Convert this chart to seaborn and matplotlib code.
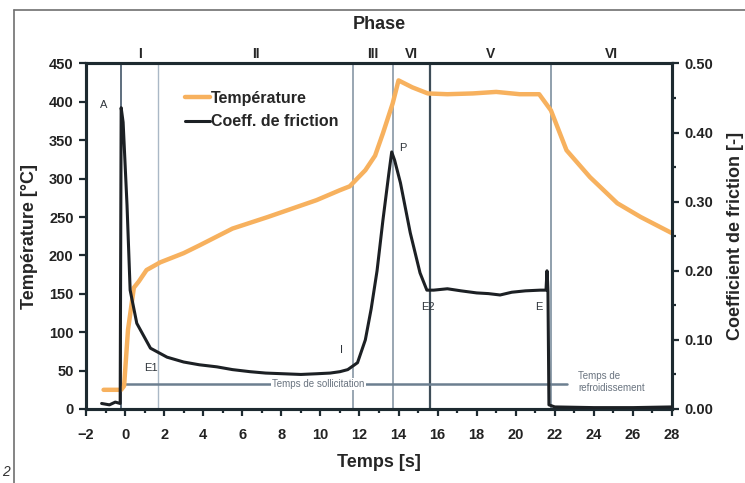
import numpy as np
import pandas as pd
import seaborn as sns
import matplotlib.pyplot as plt
from matplotlib.lines import Line2D
from matplotlib.ticker import MultipleLocator

# --- data ---
temp_t = [-1.1, -0.2, -0.05, 0.15, 0.45, 0.7, 1.1, 1.8, 3.0, 3.8, 5.5, 7.3,
          9.8, 11.0, 11.5, 12.3, 12.8, 13.2, 13.7, 14.0, 14.7, 15.5, 16.5,
          17.8, 19.0, 20.2, 21.2, 21.8, 22.6, 23.8, 25.2, 26.4, 28.0]
temp_val = [25, 25, 30, 103, 158, 166, 181, 191, 203, 213, 235, 250,
            272, 285, 290, 311, 330, 359, 398, 428, 419, 411, 410,
            411, 413, 410, 410, 389, 337, 302, 268, 250, 229]

fric_t = [-1.2, -0.8, -0.5, -0.25, -0.2, -0.1, 0.1, 0.26, 0.6, 1.3,
          2.15, 3.0, 3.8, 4.7, 5.5, 6.4, 7.2, 8.1, 9.0, 9.8, 10.5, 11.0,
          11.4, 11.9, 12.3, 12.6, 12.9, 13.2, 13.5, 13.65, 13.8, 14.1, 14.6,
          15.1, 15.45, 15.8, 16.5, 17.2, 18.0, 18.6, 19.2, 19.8, 20.5, 21.25,
          21.55, 21.6, 21.63, 21.65, 21.7, 22.0, 24.0, 26.0, 28.0]
fric_val = [0.008, 0.006, 0.010, 0.008, 0.436, 0.415, 0.295, 0.172, 0.124,
            0.088, 0.075, 0.068, 0.064, 0.061, 0.057, 0.054, 0.052,
            0.051, 0.050, 0.051, 0.052, 0.054, 0.057, 0.067, 0.10, 0.145,
            0.20, 0.273, 0.34, 0.372, 0.36, 0.327, 0.255, 0.197, 0.172, 0.172,
            0.174, 0.171, 0.168, 0.167, 0.165, 0.169, 0.171, 0.172, 0.172,
            0.20, 0.185, 0.17, 0.006, 0.003, 0.002, 0.002, 0.003]

phase_bounds = [-0.2, 1.7, 11.65, 13.7, 15.6, 21.8, 28.0]
phase_labels = ["I", "II", "III", "VI", "V", "VI"]

point_labels = ["A", "E1", "I", "P", "E2", "E"]
point_t = [-1.1, 1.3, 11.1, 14.2, 15.5, 21.2]
point_temp = [396, 53, 77, 340, 133, 133]

x_ticks = list(range(-2, 29, 2))
temp_ticks = list(range(0, 451, 50))
fric_ticks = [0.0, 0.1, 0.2, 0.3, 0.4, 0.5]

sns.set_theme(style="white")
plt.rcParams['font.family'] = ['Liberation Sans', 'DejaVu Sans']

ORANGE = '#f7b15e'
BLACK = '#1c2024'
SPINE = '#1d2a30'

fig = plt.figure(figsize=(7.45, 4.83), dpi=100)
ax = fig.add_axes([86 / 745, 1 - 409 / 483, 586 / 745, 345.5 / 483])
ax2 = ax.twinx()

df_t = pd.DataFrame({'t': temp_t, 'T': temp_val})
df_f = pd.DataFrame({'t': fric_t, 'mu': fric_val})

# phase boundaries
vcolors = ['#5d6e7e', '#aab8c6', '#8797a6', '#8797a6', '#3e4d58', '#8797a6']
vwidths = [1.4, 1.0, 1.2, 1.2, 1.6, 1.3]
for xb, c, w in zip(phase_bounds[:-1], vcolors, vwidths):
    ax.axvline(xb, color=c, lw=w, zorder=1)

# loading / cooling time marker
ax.plot([phase_bounds[0], 22.6], [32.5, 32.5], color='#6c7f90', lw=1.8, zorder=2)
ax.text(9.9, 32.5, "Temps de sollicitation", ha='center', va='center',
        fontsize=7, color='#6a7480',
        bbox=dict(facecolor='white', edgecolor='none', pad=1.0), zorder=3)
ax.text(23.2, 35, "Temps de\nrefroidissement", ha='left', va='center',
        fontsize=7, color='#6a7480', linespacing=1.3, zorder=3)

sns.lineplot(data=df_t, x='t', y='T', ax=ax, color=ORANGE, lw=3.2,
             label='Température', legend=False, zorder=4)
sns.lineplot(data=df_f, x='t', y='mu', ax=ax2, color=BLACK, lw=2.2,
             label='Coeff. de friction', legend=False, zorder=5)

for lab, xt, yt in zip(point_labels, point_t, point_temp):
    ax.text(xt, yt, lab, ha='center', va='center', fontsize=8,
            color='#30363c', zorder=6)

ax.set_xlim(-2, 28)
ax.set_ylim(0, 450)
ax2.set_ylim(0, 0.5)
ax.set_xticks(x_ticks)
ax.xaxis.set_minor_locator(MultipleLocator(1))
ax.set_yticks(temp_ticks)
ax2.set_yticks(fric_ticks)
ax2.set_yticklabels([f"{v:.2f}" for v in fric_ticks])
ax2.yaxis.set_minor_locator(MultipleLocator(0.05))

for a in (ax, ax2):
    for s in a.spines.values():
        s.set_color(SPINE)
        s.set_linewidth(2.2)
    a.tick_params(which='both', direction='out', color=SPINE, width=1.6)
    a.tick_params(which='major', length=5, labelsize=10.5, pad=4)
    a.tick_params(which='minor', length=3)
    for lbl in a.get_xticklabels() + a.get_yticklabels():
        lbl.set_fontweight('bold')
        lbl.set_color('#222222')
ax.tick_params(axis='x', which='both', bottom=True)
ax.tick_params(axis='x', which='major', pad=9)
ax.tick_params(axis='y', which='both', left=True)
ax2.tick_params(axis='y', which='both', right=True)

ax.set_xlabel("Temps [s]", fontsize=13, fontweight='bold', labelpad=8)
ax.set_ylabel("Température [°C]", fontsize=13, fontweight='bold', labelpad=8)
ax2.set_ylabel("Coefficient de friction [-]", fontsize=13, fontweight='bold',
               labelpad=10)

# top phase axis
centers = [(a + b) / 2 for a, b in zip(phase_bounds[:-1], phase_bounds[1:])]
top = ax.secondary_xaxis('top')
top.set_xticks(centers)
top.set_xticklabels(phase_labels, fontsize=10, fontweight='bold')
top.tick_params(direction='out', length=0, pad=2)
top.spines['top'].set_visible(False)
top.set_xlabel("Phase", fontsize=13, fontweight='bold', labelpad=13)

# legend
handles = [Line2D([], [], color=ORANGE, lw=3.2), Line2D([], [], color=BLACK, lw=2.2)]
leg = ax.legend(handles, ['Température', 'Coeff. de friction'],
                loc='upper left', bbox_to_anchor=(0.158, 0.94), frameon=False,
                handlelength=1.55, handletextpad=0.1, borderaxespad=0,
                labelspacing=0.55, prop={'size': 11.5, 'weight': 'bold'})

# outer frame and figure number
fig.add_artist(Line2D([14 / 745, 14 / 745], [0, 1 - 10 / 483],
                      transform=fig.transFigure, color='#707070', lw=1.2))
fig.add_artist(Line2D([14 / 745, 1], [1 - 10 / 483, 1 - 10 / 483],
                      transform=fig.transFigure, color='#707070', lw=1.2))
fig.text(2 / 745, 1 - 472 / 483, "2", fontsize=10, style='italic',
         color='#333333', va='center')

fig.savefig("out.png", dpi=100)
